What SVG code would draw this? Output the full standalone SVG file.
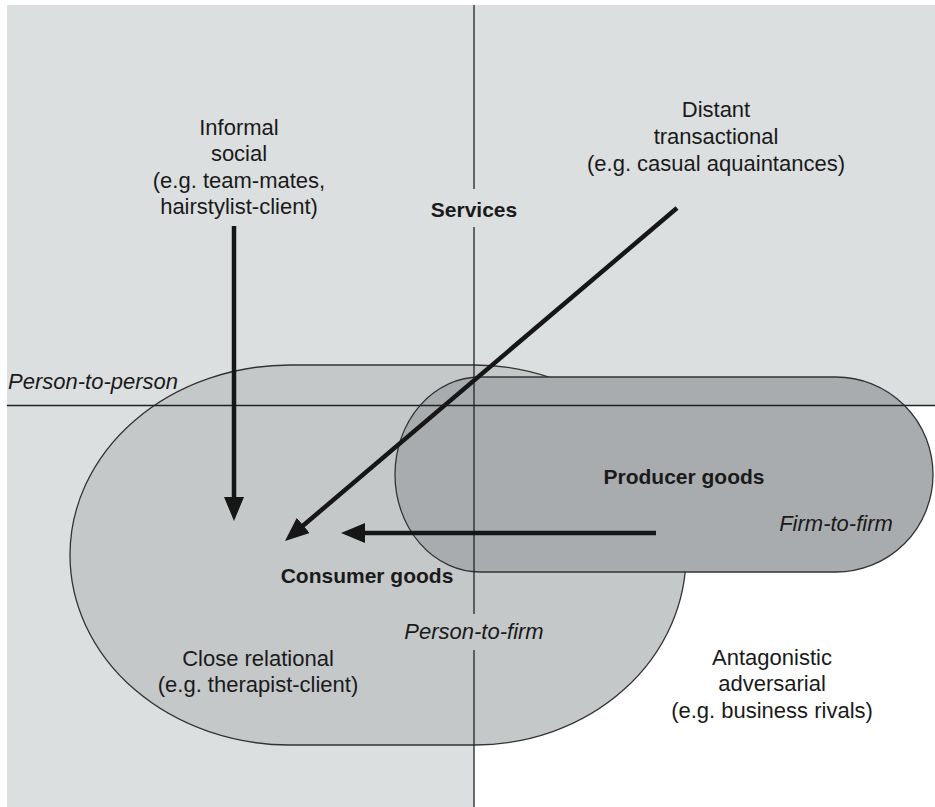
<svg xmlns="http://www.w3.org/2000/svg" width="935" height="807" viewBox="0 0 935 807">
  <style>
    .t { font-family: "Liberation Sans", Arial, sans-serif; font-size: 22px; fill: #1a1a1a; text-anchor: middle; }
    .b { font-weight: bold; font-size: 21px; }
    .i { font-style: italic; }
    .axis { stroke: #222; stroke-width: 1.3; fill: none; }
    .shape { stroke: #333; stroke-width: 1.3; }
    .arrow { stroke: #161616; stroke-width: 4.5; fill: none; marker-end: url(#ah); }
  </style>
  <defs>
    <marker id="ah" markerUnits="userSpaceOnUse" viewBox="0 0 24 20" markerWidth="24" markerHeight="20" refX="14" refY="10" orient="auto">
      <path d="M0,0 L24,10 L0,20 Z" fill="#161616"/>
    </marker>
  </defs>

  <g id="background">
    <rect x="0" y="0" width="935" height="807" fill="#ffffff"/>
    <rect x="7" y="5" width="928" height="400.5" fill="#dcdfe0"/>
    <rect x="7" y="405" width="467" height="402" fill="#dcdfe0"/>
  </g>

  <g id="consumer-goods">
    <path class="shape" fill="#c5c8c9" d="M290,365 H475 A211,190 0 0 1 475,745 H290 A220,190 0 0 1 290,365 Z"/>
  </g>

  <g id="producer-goods">
    <path class="shape" fill="#a9acaf" d="M480,377 H836 A97,97.5 0 0 1 836,572 H480 A85,97.5 0 0 1 480,377 Z"/>
  </g>

  <g id="axes">
    <line class="axis" x1="474" y1="5" x2="474" y2="807"/>
    <line class="axis" x1="7" y1="405.5" x2="935" y2="405.5"/>
  </g>

  <g id="services">
    <rect x="428" y="189" width="92" height="38" fill="#dcdfe0"/>
    <text class="t b" x="474" y="217">Services</text>
  </g>

  <g id="person-to-firm">
    <rect x="400" y="614" width="148" height="36" fill="#c5c8c9"/>
    <text class="t i" x="474" y="639">Person-to-firm</text>
  </g>

  <g id="informal-social">
    <text class="t" x="239" y="135">Informal</text>
    <text class="t" x="239" y="161">social</text>
    <text class="t" x="239" y="188">(e.g. team-mates,</text>
    <text class="t" x="239" y="214">hairstylist-client)</text>
  </g>

  <g id="distant-transactional">
    <text class="t" x="716" y="117">Distant</text>
    <text class="t" x="716" y="144">transactional</text>
    <text class="t" x="716" y="171">(e.g. casual aquaintances)</text>
  </g>

  <g id="person-to-person">
    <text class="t i" x="8" y="389" style="text-anchor:start">Person-to-person</text>
  </g>

  <g id="producer-label">
    <text class="t b" x="684" y="484">Producer goods</text>
    <text class="t i" x="836" y="531">Firm-to-firm</text>
  </g>

  <g id="consumer-label">
    <text class="t b" x="367" y="583">Consumer goods</text>
  </g>

  <g id="close-relational">
    <text class="t" x="258" y="666">Close relational</text>
    <text class="t" x="258" y="692">(e.g. therapist-client)</text>
  </g>

  <g id="antagonistic-adversarial">
    <text class="t" x="772" y="665">Antagonistic</text>
    <text class="t" x="772" y="691">adversarial</text>
    <text class="t" x="772" y="718">(e.g. business rivals)</text>
  </g>

  <g id="connectors">
    <line class="arrow" x1="234" y1="226" x2="234" y2="511"/>
    <line class="arrow" x1="677" y1="208" x2="292.6" y2="534.5"/>
    <line class="arrow" x1="656" y1="533" x2="351" y2="533"/>
  </g>
</svg>
